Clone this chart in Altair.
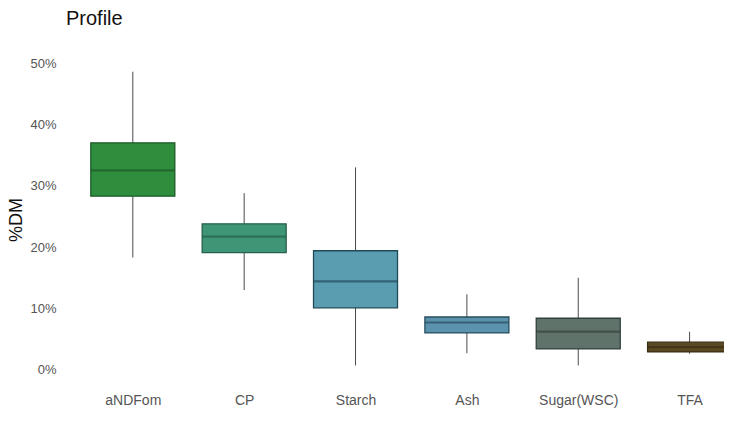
import altair as alt
import pandas as pd

categories = ["aNDFom", "CP", "Starch", "Ash", "Sugar(WSC)", "TFA"]
whisker_low = [18.3, 13.0, 0.7, 2.7, 0.7, 2.6]
q1 = [28.3, 19.1, 10.1, 6.0, 3.4, 2.9]
median = [32.5, 21.7, 14.4, 7.7, 6.2, 3.7]
q3 = [37.0, 23.8, 19.4, 8.6, 8.4, 4.5]
whisker_high = [48.6, 28.8, 33.0, 12.3, 15.0, 6.2]

fill_colors = ["#2f8e3e", "#3e9676", "#5a9db1", "#5b93ae", "#5f736b", "#5a4922"]
dark_colors = ["#1e5a28", "#27604c", "#1f4a58", "#284d5e", "#34423c", "#3a2e14"]

df = pd.DataFrame({
    "idx": list(range(1, len(categories) + 1)),
    "cat": categories,
    "lo": [v / 100 for v in whisker_low],
    "q1": [v / 100 for v in q1],
    "med": [v / 100 for v in median],
    "q3": [v / 100 for v in q3],
    "hi": [v / 100 for v in whisker_high],
})

FONT = "Liberation Sans"
label_expr = "[" + ",".join("'" + c + "'" for c in categories) + "][datum.value - 1]"

x = alt.X(
    "idx:Q",
    scale=alt.Scale(domain=[0.4, 6.3], nice=False, zero=False, padding=0),
    axis=alt.Axis(
        values=list(range(1, len(categories) + 1)),
        labelExpr=label_expr,
        title=None,
        grid=False,
        domain=False,
        ticks=False,
        labelPadding=11,
        labelFontSize=14,
        labelColor="#555555",
        labelFont=FONT,
    ),
)
yscale = alt.Scale(domain=[-0.02, 0.51], nice=False, zero=False, padding=0)
yaxis = alt.Axis(
    values=[0, 0.1, 0.2, 0.3, 0.4, 0.5],
    format=".0%",
    title="%DM",
    titleFont=FONT,
    titleFontSize=18,
    titleFontWeight="normal",
    titleColor="#111111",
    titleX=-50,
    titleBaseline="middle",
    grid=False,
    domain=False,
    ticks=False,
    labelPadding=10,
    labelFontSize=13,
    labelColor="#555555",
    labelFont=FONT,
)

color_fill = alt.Color("cat:N", scale=alt.Scale(domain=categories, range=fill_colors), legend=None)
color_dark = alt.Stroke("cat:N", scale=alt.Scale(domain=categories, range=dark_colors), legend=None)

whiskers = alt.Chart(df).mark_rule(color="#4a4a4a", strokeWidth=1).encode(
    x=x, y=alt.Y("lo:Q", scale=yscale, axis=yaxis), y2="hi:Q"
)
boxes = alt.Chart(df).mark_bar(size=84, strokeWidth=1.3).encode(
    x=x, y=alt.Y("q1:Q", scale=yscale, axis=yaxis), y2="q3:Q", color=color_fill, stroke=color_dark
)
medians = alt.Chart(df).mark_tick(orient="horizontal", size=84, thickness=2.2).encode(
    x=x, y=alt.Y("med:Q", scale=yscale, axis=yaxis), color=alt.Color("cat:N", scale=alt.Scale(domain=categories, range=dark_colors), legend=None)
)

chart = (
    alt.layer(whiskers, boxes, medians)
    .resolve_scale(color="independent")
    .properties(
        width=657,
        height=325,
        autosize=alt.AutoSizeParams(type="none"),
        padding={"left": 58, "top": 49, "right": 1, "bottom": 43},
        title=alt.TitleParams(
            "Profile",
            anchor="start",
            frame="group",
            font=FONT,
            fontSize=20,
            fontWeight="normal",
            color="#111111",
            baseline="alphabetic",
            offset=12,
        ),
    )
    .configure_view(stroke=None)
)

chart.save("out.html", embed_options={"renderer": "svg", "actions": False})
